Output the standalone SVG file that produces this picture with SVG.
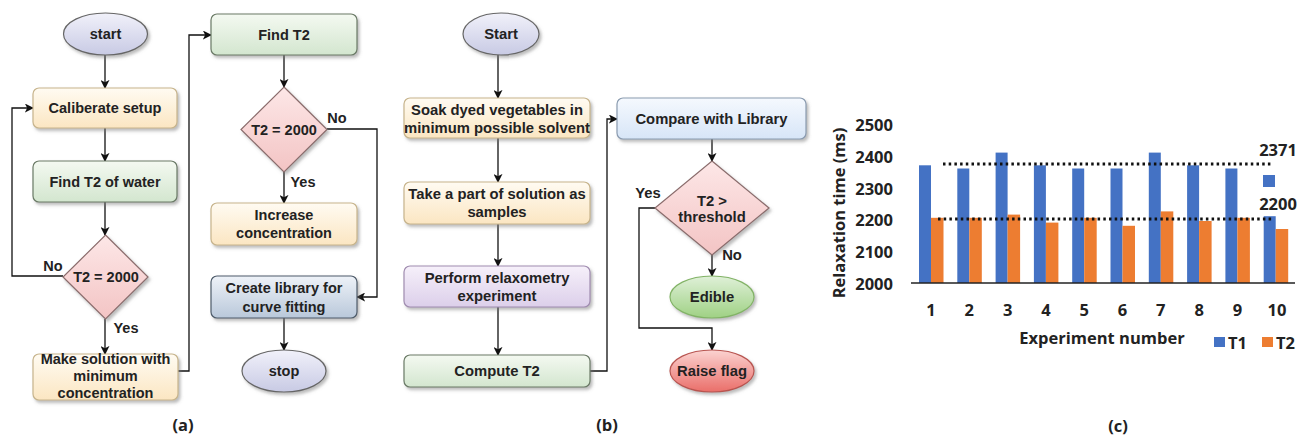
<svg xmlns="http://www.w3.org/2000/svg" width="1309" height="439" viewBox="0 0 1309 439">
<style>
.t{font-family:"Liberation Sans",Arial,sans-serif;font-weight:bold;font-size:14.5px;fill:#222;text-anchor:middle;dominant-baseline:central}
.tb{font-size:14.8px}
.c{font-family:"Open Sans","Noto Sans",sans-serif;font-weight:700;font-size:16.5px;fill:#222;dominant-baseline:central}
.e{stroke:#666;stroke-width:1.2}
.conn{fill:none;stroke:#111;stroke-width:1.3}
</style>
<defs>
<filter id="sh" x="-10%" y="-10%" width="130%" height="140%"><feDropShadow dx="2" dy="2.5" stdDeviation="1.5" flood-color="#777" flood-opacity="0.5"/></filter>
<marker id="ar" viewBox="0 0 10 10" refX="9" refY="5" markerWidth="9" markerHeight="9" markerUnits="userSpaceOnUse" orient="auto"><path d="M0,0 L10,5 L0,10 L2.5,5 z" fill="#111"/></marker>
<linearGradient id="gLav" x1="0" y1="0" x2="0" y2="1"><stop offset="0" stop-color="#f1f1fa"/><stop offset="1" stop-color="#c8cae4"/></linearGradient>
<linearGradient id="gYel" x1="0" y1="0" x2="0" y2="1"><stop offset="0" stop-color="#fffbf2"/><stop offset="1" stop-color="#fbe6c2"/></linearGradient>
<linearGradient id="gGrn" x1="0" y1="0" x2="0" y2="1"><stop offset="0" stop-color="#f4f9f1"/><stop offset="1" stop-color="#d3e6cf"/></linearGradient>
<linearGradient id="gPnk" x1="0" y1="0" x2="0" y2="1"><stop offset="0" stop-color="#fde7e7"/><stop offset="1" stop-color="#f3c4c4"/></linearGradient>
<linearGradient id="gSte" x1="0" y1="0" x2="0" y2="1"><stop offset="0" stop-color="#eef2f8"/><stop offset="1" stop-color="#b9c8da"/></linearGradient>
<linearGradient id="gPur" x1="0" y1="0" x2="0" y2="1"><stop offset="0" stop-color="#f6f0fa"/><stop offset="1" stop-color="#dccfea"/></linearGradient>
<linearGradient id="gBlu" x1="0" y1="0" x2="0" y2="1"><stop offset="0" stop-color="#f5f9fe"/><stop offset="1" stop-color="#d7e5f7"/></linearGradient>
<linearGradient id="gEd" x1="0" y1="0" x2="0" y2="1"><stop offset="0" stop-color="#dff0d8"/><stop offset="1" stop-color="#9fd184"/></linearGradient>
<linearGradient id="gRf" x1="0" y1="0" x2="0" y2="1"><stop offset="0" stop-color="#fbd3d1"/><stop offset="1" stop-color="#ea6e69"/></linearGradient>
</defs>
<rect width="1309" height="439" fill="#fff"/>

<!-- connectors -->
<g id="connectors" class="conn">
<line x1="105" y1="55" x2="105" y2="88" marker-end="url(#ar)"/>
<line x1="105" y1="128" x2="105" y2="161" marker-end="url(#ar)"/>
<line x1="105" y1="202" x2="105" y2="235" marker-end="url(#ar)"/>
<line x1="105" y1="319" x2="105" y2="354" marker-end="url(#ar)"/>
<polyline points="63,276 12,276 12,108 33,108" marker-end="url(#ar)"/>
<polyline points="178,371 189,371 189,35 211,35" marker-end="url(#ar)"/>
<line x1="284" y1="55" x2="284" y2="87" marker-end="url(#ar)"/>
<line x1="284" y1="172" x2="284" y2="203" marker-end="url(#ar)"/>
<polyline points="327,129 377,129 377,297 357,297" marker-end="url(#ar)"/>
<line x1="284" y1="318" x2="284" y2="350" marker-end="url(#ar)"/>
<line x1="498" y1="55" x2="498" y2="98" marker-end="url(#ar)"/>
<line x1="498" y1="138" x2="498" y2="182" marker-end="url(#ar)"/>
<line x1="498" y1="224" x2="498" y2="266" marker-end="url(#ar)"/>
<line x1="498" y1="307" x2="498" y2="355" marker-end="url(#ar)"/>
<polyline points="590,371 607,371 607,119 617,119" marker-end="url(#ar)"/>
<line x1="712" y1="139" x2="712" y2="161" marker-end="url(#ar)"/>
<line x1="712" y1="255" x2="712" y2="276" marker-end="url(#ar)"/>
<polyline points="655,208 639,208 639,328 712,328 712,350" marker-end="url(#ar)"/>
</g>

<!-- panel (a) -->
<g id="a_start"><ellipse cx="105.5" cy="34" rx="42" ry="21" fill="url(#gLav)" class="e" filter="url(#sh)"/><text class="t" x="105.5" y="34">start</text></g>
<g id="a_calib"><rect x="33" y="88" width="144" height="40" rx="6" fill="url(#gYel)" stroke="#c7b48c" stroke-width="1.2" filter="url(#sh)"/><text class="t" x="105" y="108">Caliberate setup</text></g>
<g id="a_water"><rect x="33" y="161" width="144" height="41" rx="6" fill="url(#gGrn)" stroke="#6a7a66" stroke-width="1.2" filter="url(#sh)"/><text class="t" x="105" y="182">Find T2 of water</text></g>
<g id="a_dec1"><polygon points="105.5,235 148,277 105.5,319 63,277" fill="url(#gPnk)" stroke="#8a6c6c" stroke-width="1.2" filter="url(#sh)"/><text class="t" x="106" y="277">T2 = 2000</text>
<text class="t" x="53" y="266">No</text><text class="t" x="126" y="328">Yes</text></g>
<g id="a_make"><rect x="33" y="354" width="145" height="46" rx="6" fill="url(#gYel)" stroke="#c7b48c" stroke-width="1.2" filter="url(#sh)"/><text class="t" x="105.5" y="359">Make solution with</text><text class="t" x="105.5" y="376">minimum</text><text class="t" x="105.5" y="393">concentration</text></g>
<g id="a_findT2"><rect x="211" y="14" width="146" height="41" rx="6" fill="url(#gGrn)" stroke="#6a7a66" stroke-width="1.2" filter="url(#sh)"/><text class="t" x="284" y="35">Find T2</text></g>
<g id="a_dec2"><polygon points="284,87 327,129.5 284,172 241,129.5" fill="url(#gPnk)" stroke="#8a6c6c" stroke-width="1.2" filter="url(#sh)"/><text class="t" x="284" y="129.5">T2 = 2000</text>
<text class="t" x="337" y="118">No</text><text class="t" x="303" y="182">Yes</text></g>
<g id="a_incr"><rect x="211" y="203" width="146" height="42" rx="6" fill="url(#gYel)" stroke="#c7b48c" stroke-width="1.2" filter="url(#sh)"/><text class="t" x="284" y="215">Increase</text><text class="t" x="284" y="233">concentration</text></g>
<g id="a_lib"><rect x="211" y="276" width="146" height="42" rx="6" fill="url(#gSte)" stroke="#4d5b6a" stroke-width="1.2" filter="url(#sh)"/><text class="t" x="284" y="288">Create library for</text><text class="t" x="284" y="307">curve fitting</text></g>
<g id="a_stop"><ellipse cx="284" cy="371" rx="42" ry="21" fill="url(#gLav)" class="e" filter="url(#sh)"/><text class="t" x="284" y="371">stop</text></g>

<!-- panel (b) -->
<g id="b_start"><ellipse cx="501" cy="34" rx="38" ry="21" fill="url(#gLav)" class="e" filter="url(#sh)"/><text class="t tb" x="501" y="34">Start</text></g>
<g id="b_soak"><rect x="404" y="98" width="186" height="40" rx="6" fill="url(#gYel)" stroke="#c7b48c" stroke-width="1.2" filter="url(#sh)"/><text class="t tb" x="497" y="110">Soak dyed vegetables in</text><text class="t tb" x="497" y="128">minimum possible solvent</text></g>
<g id="b_take"><rect x="404" y="182" width="186" height="42" rx="6" fill="url(#gYel)" stroke="#c7b48c" stroke-width="1.2" filter="url(#sh)"/><text class="t tb" x="497" y="194">Take a part of solution as</text><text class="t tb" x="497" y="212">samples</text></g>
<g id="b_perf"><rect x="404" y="266" width="186" height="41" rx="6" fill="url(#gPur)" stroke="#a08cb0" stroke-width="1.2" filter="url(#sh)"/><text class="t tb" x="497" y="278">Perform relaxometry</text><text class="t tb" x="497" y="296">experiment</text></g>
<g id="b_comp"><rect x="404" y="355" width="186" height="32" rx="6" fill="url(#gGrn)" stroke="#6a7a66" stroke-width="1.2" filter="url(#sh)"/><text class="t tb" x="497" y="371">Compute T2</text></g>
<g id="b_lib"><rect x="617" y="98" width="189" height="41" rx="6" fill="url(#gBlu)" stroke="#8a9bb0" stroke-width="1.2" filter="url(#sh)"/><text class="t tb" x="711.5" y="119">Compare with Library</text></g>
<g id="b_dec"><polygon points="712,161 769,208 712,255 655,208" fill="url(#gPnk)" stroke="#8a6c6c" stroke-width="1.2" filter="url(#sh)"/><text class="t tb" x="712" y="201">T2 &gt;</text><text class="t tb" x="712" y="217">threshold</text>
<text class="t tb" x="648" y="193">Yes</text><text class="t tb" x="732" y="255">No</text></g>
<g id="b_edible"><ellipse cx="712" cy="297" rx="42" ry="21" fill="url(#gEd)" stroke="#82b366" stroke-width="1.2" filter="url(#sh)"/><text class="t tb" x="712" y="297">Edible</text></g>
<g id="b_flag"><ellipse cx="712" cy="371" rx="42" ry="21" fill="url(#gRf)" stroke="#b85450" stroke-width="1.2" filter="url(#sh)"/><text class="t tb" x="712" y="371">Raise flag</text></g>

<!-- panel labels -->
<g id="labels">
<text class="c" x="183" y="424" text-anchor="middle" font-size="16">(a)</text>
<text class="c" x="607" y="424" text-anchor="middle" font-size="16">(b)</text>
<text class="c" x="1118" y="425" text-anchor="middle" font-size="16">(c)</text>
</g>

<!-- chart (c) -->
<g id="chart">
<g fill="#4472c4">
<rect x="919" y="165.3" width="12" height="117.7"/>
<rect x="957.3" y="168.5" width="12" height="114.5"/>
<rect x="995.6" y="152.6" width="12" height="130.4"/>
<rect x="1033.9" y="165.3" width="12" height="117.7"/>
<rect x="1072.2" y="168.5" width="12" height="114.5"/>
<rect x="1110.5" y="168.5" width="12" height="114.5"/>
<rect x="1148.8" y="152.6" width="12" height="130.4"/>
<rect x="1187.1" y="165.3" width="12" height="117.7"/>
<rect x="1225.4" y="168.5" width="12" height="114.5"/>
<rect x="1263.7" y="216.2" width="12" height="66.8"/>
</g>
<g fill="#ed7d31">
<rect x="931" y="217.8" width="12.5" height="65.2"/>
<rect x="969.3" y="217.8" width="12.5" height="65.2"/>
<rect x="1007.6" y="214.6" width="12.5" height="68.4"/>
<rect x="1045.9" y="222.6" width="12.5" height="60.4"/>
<rect x="1084.2" y="217.8" width="12.5" height="65.2"/>
<rect x="1122.5" y="225.8" width="12.5" height="57.2"/>
<rect x="1160.8" y="211.4" width="12.5" height="71.6"/>
<rect x="1199.1" y="221" width="12.5" height="62"/>
<rect x="1237.4" y="217.8" width="12.5" height="65.2"/>
<rect x="1275.7" y="229" width="12.5" height="54"/>
</g>
<line x1="911" y1="283" x2="1295" y2="283" stroke="#222" stroke-width="1.5"/>
<line x1="943" y1="164" x2="1272" y2="164" stroke="#111" stroke-width="2.8" stroke-dasharray="2.5 3.2"/>
<line x1="938" y1="219" x2="1273" y2="219" stroke="#111" stroke-width="2.8" stroke-dasharray="2.5 3.2"/>
<rect x="1263" y="175" width="12" height="12" fill="#4472c4"/>
<text class="c" x="1278" y="149" text-anchor="middle">2371</text>
<text class="c" x="1278" y="203" text-anchor="middle">2200</text>
<g text-anchor="end">
<text class="c" x="893" y="124">2500</text>
<text class="c" x="893" y="156">2400</text>
<text class="c" x="893" y="188">2300</text>
<text class="c" x="893" y="219">2200</text>
<text class="c" x="893" y="251">2100</text>
<text class="c" x="893" y="283">2000</text>
</g>
<text class="c" transform="translate(838,213) rotate(-90)" text-anchor="middle">Relaxation time (ms)</text>
<g text-anchor="middle">
<text class="c" x="931" y="309">1</text>
<text class="c" x="969.3" y="309">2</text>
<text class="c" x="1007.6" y="309">3</text>
<text class="c" x="1045.9" y="309">4</text>
<text class="c" x="1084.2" y="309">5</text>
<text class="c" x="1122.5" y="309">6</text>
<text class="c" x="1160.8" y="309">7</text>
<text class="c" x="1199.1" y="309">8</text>
<text class="c" x="1237.4" y="309">9</text>
<text class="c" x="1277" y="309">10</text>
</g>
<text class="c" x="1102" y="337" text-anchor="middle">Experiment number</text>
<rect x="1214" y="337" width="11" height="10" fill="#4472c4"/>
<text class="c" x="1228" y="342">T1</text>
<rect x="1262" y="337" width="11" height="10" fill="#ed7d31"/>
<text class="c" x="1276" y="342">T2</text>
</g>
</svg>
